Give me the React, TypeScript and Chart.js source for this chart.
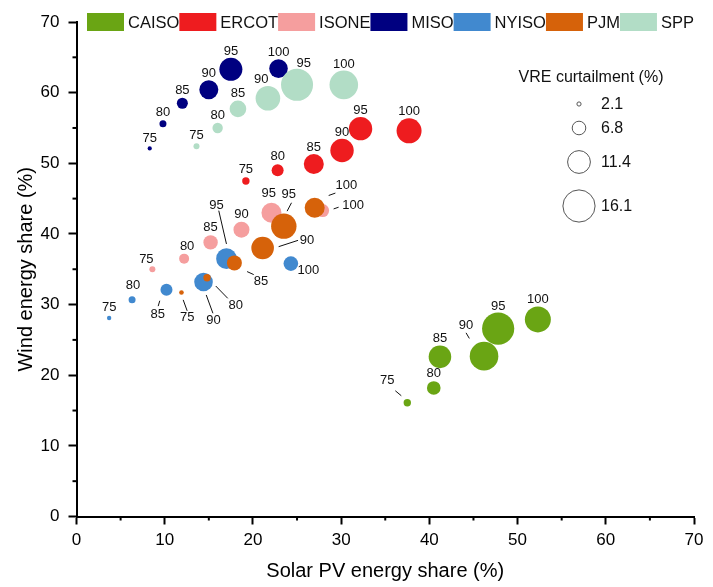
import React, { useEffect, useRef } from 'react';
import { Chart, registerables } from 'chart.js';

Chart.register(...registerables);

const FONT = '"Liberation Sans", Arial, Helvetica, sans-serif';

// ---- Data -----------------------------------------------------------------
const REGIONS = ['CAISO', 'ERCOT', 'ISONE', 'MISO', 'NYISO', 'PJM', 'SPP'];
const TARGETS = ['75', '80', '85', '90', '95', '100'];

const CAISO_SOLAR = [37.5, 40.5, 41.2, 46.2, 47.8, 52.3];
const CAISO_WIND = [16.1, 18.2, 22.6, 22.7, 26.6, 27.9];
const CAISO_CURT = [3.7, 6.8, 11.3, 14.3, 16.1, 13.0];

const ERCOT_SOLAR = [19.2, 22.8, 26.9, 30.1, 32.2, 37.7];
const ERCOT_WIND = [47.5, 49.0, 49.9, 51.8, 54.9, 54.6];
const ERCOT_CURT = [3.7, 6.0, 10.0, 11.7, 11.7, 12.5];

const ISONE_SOLAR = [8.6, 12.2, 15.2, 18.7, 22.1, 27.9];
const ISONE_WIND = [35.0, 36.5, 38.8, 40.6, 43.0, 43.3];
const ISONE_CURT = [3.0, 5.0, 7.2, 8.0, 10.0, 6.5];

const MISO_SOLAR = [8.3, 9.8, 12.0, 15.0, 17.5, 22.9];
const MISO_WIND = [52.1, 55.6, 58.5, 60.4, 63.3, 63.4];
const MISO_CURT = [2.1, 3.5, 5.5, 9.5, 11.5, 9.3];

const NYISO_SOLAR = [3.7, 6.3, 10.2, 14.4, 17.0, 24.3];
const NYISO_WIND = [28.1, 30.7, 32.1, 33.2, 36.5, 35.8];
const NYISO_CURT = [2.2, 3.5, 6.0, 9.3, 10.3, 7.3];

const PJM_SOLAR = [11.9, 14.8, 17.9, 21.1, 23.5, 27.0];
const PJM_WIND = [31.7, 33.8, 35.9, 38.0, 41.1, 43.7];
const PJM_CURT = [2.3, 3.7, 7.5, 11.3, 12.7, 10.0];

const SPP_SOLAR = [13.6, 16.0, 18.3, 21.7, 25.0, 30.3];
const SPP_WIND = [52.4, 55.0, 57.7, 59.2, 61.1, 61.1];
const SPP_CURT = [3.0, 5.2, 8.3, 12.3, 16.0, 14.3];

const SIZE_LEGEND = [2.1, 6.8, 11.4, 16.1];
const AXIS_MIN = 0;
const AXIS_MAX = 70;
const MAJOR_STEP = 10;
const MINOR_TICKS = [5, 15, 25, 35, 45, 55, 65];

const SERIES = [
  { solar: CAISO_SOLAR, wind: CAISO_WIND, curt: CAISO_CURT },
  { solar: ERCOT_SOLAR, wind: ERCOT_WIND, curt: ERCOT_CURT },
  { solar: ISONE_SOLAR, wind: ISONE_WIND, curt: ISONE_CURT },
  { solar: MISO_SOLAR, wind: MISO_WIND, curt: MISO_CURT },
  { solar: NYISO_SOLAR, wind: NYISO_WIND, curt: NYISO_CURT },
  { solar: PJM_SOLAR, wind: PJM_WIND, curt: PJM_CURT },
  { solar: SPP_SOLAR, wind: SPP_WIND, curt: SPP_CURT },
];

// ---- Styles ---------------------------------------------------------------
const COLORS = ['#6aa514', '#ee1c1f', '#f59e9e', '#000080', '#4189cf', '#d6620a', '#b2ddc6'];

type Place = { dx: number; dy: number; line?: [number, number, number, number] };
const LABEL_PLACEMENT: Record<string, Record<number, Place>> = {
  CAISO: {
    0: { dx: -20, dy: -22, line: [-12, -12, -6, -7] },
    3: { dx: -18, dy: -31, line: [-18, -23.3, -14.7, -17.7] },
  },
  SPP: { 3: { dx: -6.6, dy: -18.7 }, 4: { dx: 6.6, dy: -21.3 } },
  ISONE: {
    0: { dx: -6, dy: -10.3 },
    1: { dx: 3, dy: -12.7 },
    4: { dx: -2.7, dy: -19.3 },
    5: { dx: 30.4, dy: -4.7, line: [11, -1.7, 16, -3.4] },
  },
  PJM: {
    0: { dx: 5.7, dy: 24.6, line: [1.7, 7.3, 5.7, 18.3] },
    1: { dx: 28.7, dy: 27.3, line: [8.7, 8.3, 20.7, 20.6] },
    2: { dx: 26.7, dy: 18.4, line: [12.7, 8.7, 19.3, 11.7] },
    3: { dx: 44.4, dy: -7.7, line: [16, -1.4, 35.4, -7.7] },
    4: { dx: 5, dy: -31.7, line: [3.3, -15, 7.7, -23.4] },
    5: { dx: 31.7, dy: -22, line: [14, -12.3, 20.7, -14.7] },
  },
  NYISO: {
    1: { dx: 1, dy: -14 },
    2: { dx: -8.7, dy: 24.4, line: [-6.7, 11, -8.3, 16.4] },
    3: { dx: 10, dy: 38.7, line: [2.7, 13, 9.4, 31.3] },
    4: { dx: -10, dy: -53.7, line: [-7.7, -48, 0, -14.7] },
    5: { dx: 17.6, dy: 7 },
  },
};

const pointLabels = {
  id: 'pointLabels',
  afterDatasetsDraw(chart: any) {
    const ctx = chart.ctx;
    ctx.save();
    ctx.font = `13px ${FONT}`;
    ctx.fillStyle = '#111';
    ctx.strokeStyle = '#111';
    ctx.lineWidth = 1;
    ctx.textAlign = 'center';
    ctx.textBaseline = 'middle';
    chart.data.datasets.forEach((ds: any, i: number) => {
      const meta = chart.getDatasetMeta(i);
      const name = REGIONS[i];
      meta.data.forEach((el: any, j: number) => {
        const r = ds.data[j].r;
        const p: Place = (LABEL_PLACEMENT[name] && LABEL_PLACEMENT[name][j]) || { dx: 0, dy: -(r * 0.85 + 8.5) };
        if (p.line) {
          ctx.beginPath();
          ctx.moveTo(el.x + p.line[0], el.y + p.line[1]);
          ctx.lineTo(el.x + p.line[2], el.y + p.line[3]);
          ctx.stroke();
        }
        ctx.fillText(TARGETS[j], el.x + p.dx, el.y + p.dy);
      });
    });
    ctx.restore();
  },
};

const customLegends = {
  id: 'customLegends',
  afterDraw(chart: any) {
    const ctx = chart.ctx;
    ctx.save();
    // region legend
    ctx.font = `16.5px ${FONT}`;
    ctx.textBaseline = 'middle';
    ctx.textAlign = 'left';
    let x = 87;
    REGIONS.forEach((name, i) => {
      ctx.fillStyle = COLORS[i];
      ctx.fillRect(x, 13, 37, 18);
      ctx.fillStyle = '#111';
      ctx.fillText(name, x + 41, 23);
      x += 41 + ctx.measureText(name).width;
    });
    // size legend
    ctx.font = `16px ${FONT}`;
    ctx.textAlign = 'center';
    ctx.fillText('VRE curtailment (%)', 591, 78);
    const ys = [104, 128, 162, 206];
    SIZE_LEGEND.forEach((v, k) => {
      ctx.beginPath();
      ctx.arc(579, ys[k], v, 0, Math.PI * 2);
      ctx.fillStyle = '#fff';
      ctx.fill();
      ctx.strokeStyle = '#555';
      ctx.lineWidth = 1;
      ctx.stroke();
      ctx.fillStyle = '#111';
      ctx.textAlign = 'left';
      ctx.fillText(v.toFixed(1), 601, ys[k] + 1);
    });
    // minor ticks
    const xs = chart.scales.x;
    const yS = chart.scales.y;
    const area = chart.chartArea;
    ctx.strokeStyle = '#000';
    ctx.lineWidth = 2;
    MINOR_TICKS.forEach((v) => {
      const px = xs.getPixelForValue(v);
      ctx.beginPath();
      ctx.moveTo(px, area.bottom);
      ctx.lineTo(px, area.bottom + 4);
      ctx.stroke();
      const py = yS.getPixelForValue(v);
      ctx.beginPath();
      ctx.moveTo(area.left, py);
      ctx.lineTo(area.left - 4, py);
      ctx.stroke();
    });
    ctx.restore();
  },
};

export default function App() {
  const ref = useRef<HTMLCanvasElement | null>(null);
  useEffect(() => {
    if (!ref.current) return;
    const datasets = SERIES.map((s, i) => ({
      label: REGIONS[i],
      data: s.solar.map((sx, j) => ({ x: sx, y: s.wind[j], r: s.curt[j] })),
      backgroundColor: COLORS[i],
      borderWidth: 0,
      order: SERIES.length - i,
    }));
    const axisCommon = (title: string, titlePad: any, fit: (s: any) => void) => ({
      type: 'linear' as const,
      min: AXIS_MIN,
      max: AXIS_MAX,
      ticks: { stepSize: MAJOR_STEP, color: '#000', font: { size: 17, family: FONT }, padding: 6, maxRotation: 0 },
      grid: { drawOnChartArea: false, drawTicks: true, tickLength: 8, tickWidth: 2, tickColor: '#000' },
      border: { display: true, color: '#000', width: 2 },
      title: { display: true, text: title, color: '#000', font: { size: 20, family: FONT }, padding: titlePad },
      afterFit: fit,
    });
    const chart = new Chart(ref.current, {
      type: 'bubble',
      data: { datasets },
      options: {
        responsive: false,
        animation: false,
        events: [],
        layout: { padding: { top: 22, right: 19, left: 0, bottom: 0 } },
        plugins: { legend: { display: false }, tooltip: { enabled: false } },
        scales: {
          x: axisCommon('Solar PV energy share (%)', { top: 0, bottom: 4 }, (s: any) => { s.height = 70.5; }),
          y: {
            ...axisCommon('Wind energy share (%)', { top: 14, bottom: 0 }, (s: any) => { s.width = 76.5; }),
            ticks: { stepSize: MAJOR_STEP, color: '#000', font: { size: 17, family: FONT }, padding: 9 },
          },
        },
      } as any,
      plugins: [pointLabels, customLegends],
    });
    return () => chart.destroy();
  }, []);
  return (
    <div style={{ position: 'fixed', left: 0, top: 0, width: 713, height: 587, background: '#fff' }}>
      <canvas ref={ref} width={713} height={587} style={{ width: 713, height: 587, display: 'block' }} />
    </div>
  );
}
